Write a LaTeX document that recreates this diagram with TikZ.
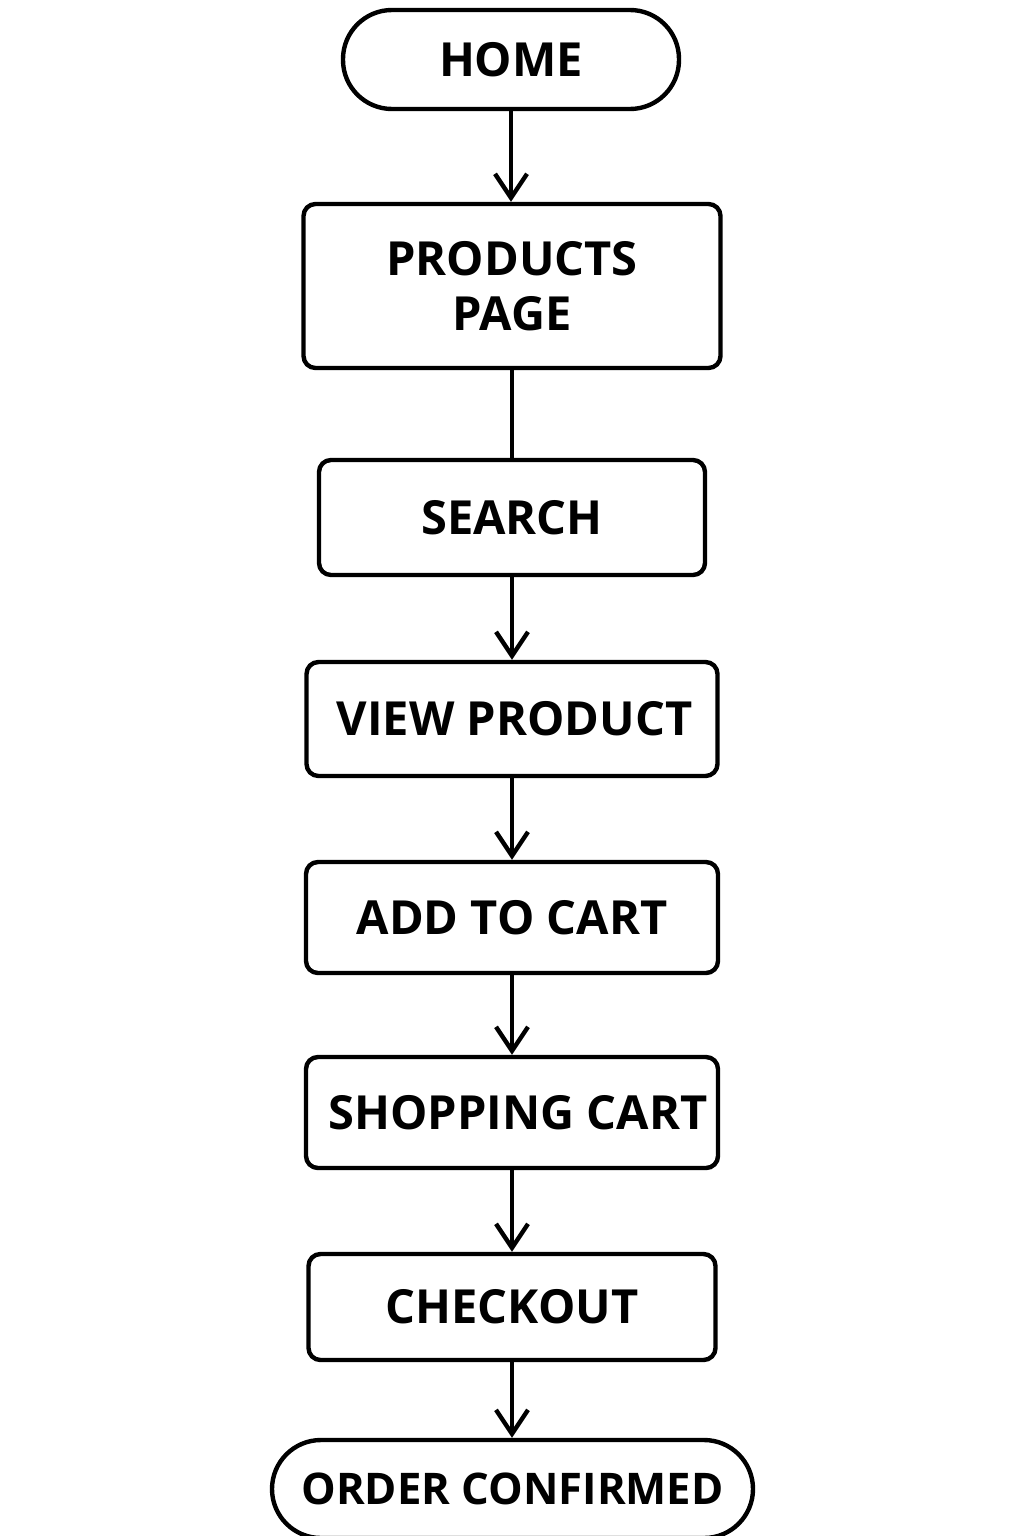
\documentclass[tikz,border=0pt]{standalone}
\usepackage{fontspec}
\setmainfont{Open Sans}
\usetikzlibrary{arrows.meta}
\begin{document}
\begin{tikzpicture}[x=0.5pt,y=-0.5pt,
  box/.style={draw=black, line width=2.2pt, rounded corners=6pt, inner sep=0pt,
    align=center, fill=white, font=\fontsize{23.5}{27.5}\selectfont\bfseries},
  term/.style={box, rounded corners=24.5pt},
  arr/.style={line width=2.2pt, -{Straight Barb[length=12pt,width=16pt]}},
  link/.style={line width=2.2pt}]
\fill[white] (0,0) rectangle (1024,1536);
\useasboundingbox (0,0) rectangle (1024,1536);
\node[term, minimum width=168pt, minimum height=49.5pt] (home) at (511,59.5) {HOME};
\node[box, minimum width=208.5pt, minimum height=82pt] (products) at (512,286) {PRODUCTS\\PAGE};
\node[box, minimum width=193pt, minimum height=57.5pt] (search) at (512,517.5) {SEARCH};
\node[box, minimum width=205.5pt, minimum height=57pt] (view) at (512,719) {\hspace*{2.5pt}VIEW PRODUCT};
\node[box, minimum width=206pt, minimum height=55.5pt] (add) at (512,917.5) {ADD TO CART};
\node[box, minimum width=206pt, minimum height=55.5pt] (shop) at (512,1112.5) {\hspace*{6pt}SHOPPING CART};
\node[box, minimum width=203.5pt, minimum height=53pt] (checkout) at (512,1307) {CHECKOUT};
\node[term, minimum width=240.5pt, minimum height=49pt, font=\fontsize{21.8}{26}\selectfont\bfseries] (order) at (512.5,1489) {ORDER CONFIRMED};
\draw[arr] (home.south) -- (home.south |- products.north);
\draw[link] (products.south) -- (products.south |- search.north);
\draw[arr] (search.south) -- (search.south |- view.north);
\draw[arr] (view.south) -- (view.south |- add.north);
\draw[arr] (add.south) -- (add.south |- shop.north);
\draw[arr] (shop.south) -- (shop.south |- checkout.north);
\draw[arr] (checkout.south) -- (checkout.south |- order.north);
\end{tikzpicture}
\end{document}
